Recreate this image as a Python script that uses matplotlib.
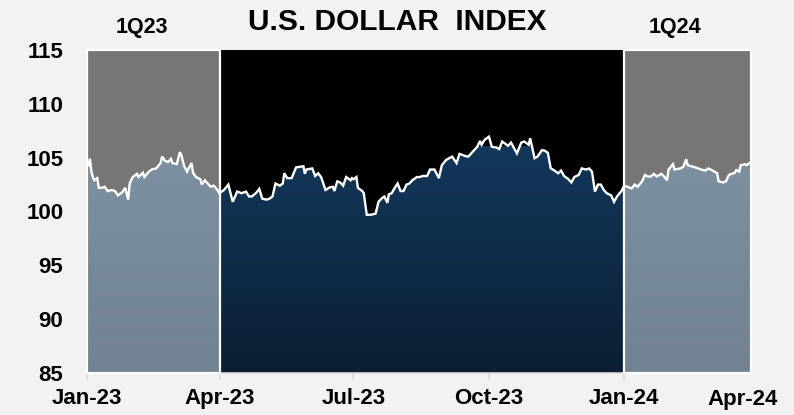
import numpy as np
import pandas as pd
import matplotlib
matplotlib.use("Agg")
import matplotlib.pyplot as plt
import matplotlib.dates as mdates
from matplotlib.colors import LinearSegmentedColormap

# ---------------- data ----------------
dates = [
    "2023-01-02", "2023-01-03", "2023-01-04", "2023-01-05", "2023-01-06", "2023-01-08",
    "2023-01-09", "2023-01-11", "2023-01-13", "2023-01-15", "2023-01-18", "2023-01-20",
    "2023-01-22", "2023-01-25", "2023-01-27", "2023-01-29", "2023-01-30", "2023-02-01",
    "2023-02-04", "2023-02-05", "2023-02-08", "2023-02-09", "2023-02-12", "2023-02-14",
    "2023-02-17", "2023-02-20", "2023-02-21", "2023-02-23", "2023-02-25", "2023-02-27",
    "2023-02-28", "2023-03-03", "2023-03-05", "2023-03-06", "2023-03-08", "2023-03-10",
    "2023-03-11", "2023-03-13", "2023-03-14", "2023-03-16", "2023-03-19", "2023-03-20",
    "2023-03-22", "2023-03-24", "2023-03-26", "2023-03-28", "2023-03-30", "2023-04-01",
    "2023-04-04", "2023-04-07", "2023-04-10", "2023-04-13", "2023-04-16", "2023-04-19",
    "2023-04-21", "2023-04-23", "2023-04-26", "2023-04-28", "2023-04-30", "2023-05-03",
    "2023-05-05", "2023-05-07", "2023-05-09", "2023-05-12", "2023-05-14", "2023-05-15",
    "2023-05-17", "2023-05-20", "2023-05-23", "2023-05-28", "2023-05-29", "2023-05-30",
    "2023-06-03", "2023-06-05", "2023-06-07", "2023-06-09", "2023-06-12", "2023-06-15",
    "2023-06-17", "2023-06-18", "2023-06-20", "2023-06-22", "2023-06-24", "2023-06-26",
    "2023-06-29", "2023-06-30", "2023-07-01", "2023-07-03", "2023-07-04", "2023-07-07",
    "2023-07-08", "2023-07-10", "2023-07-13", "2023-07-16", "2023-07-18", "2023-07-20",
    "2023-07-22", "2023-07-24", "2023-07-25", "2023-07-27", "2023-07-29", "2023-07-31",
    "2023-08-02", "2023-08-04", "2023-08-06", "2023-08-08", "2023-08-10", "2023-08-13",
    "2023-08-15", "2023-08-17", "2023-08-20", "2023-08-22", "2023-08-25", "2023-08-28",
    "2023-08-30", "2023-09-02", "2023-09-06", "2023-09-09", "2023-09-11", "2023-09-15",
    "2023-09-17", "2023-09-20", "2023-09-23", "2023-09-25", "2023-09-26", "2023-09-28",
    "2023-10-01", "2023-10-03", "2023-10-06", "2023-10-08", "2023-10-10", "2023-10-12",
    "2023-10-14", "2023-10-16", "2023-10-18", "2023-10-20", "2023-10-23", "2023-10-25",
    "2023-10-28", "2023-10-29", "2023-11-01", "2023-11-03", "2023-11-06", "2023-11-08",
    "2023-11-10", "2023-11-12", "2023-11-14", "2023-11-17", "2023-11-19", "2023-11-21",
    "2023-11-24", "2023-11-26", "2023-11-28", "2023-12-01", "2023-12-03", "2023-12-06",
    "2023-12-08", "2023-12-10", "2023-12-12", "2023-12-14", "2023-12-16", "2023-12-18",
    "2023-12-20", "2023-12-23", "2023-12-25", "2023-12-27", "2023-12-30", "2024-01-01",
    "2024-01-04", "2024-01-06", "2024-01-08", "2024-01-10", "2024-01-13", "2024-01-15",
    "2024-01-17", "2024-01-19", "2024-01-21", "2024-01-23", "2024-01-26", "2024-01-28",
    "2024-01-30", "2024-01-31", "2024-02-03", "2024-02-04", "2024-02-08", "2024-02-10",
    "2024-02-12", "2024-02-13", "2024-02-18", "2024-02-22", "2024-02-25", "2024-02-27",
    "2024-03-01", "2024-03-04", "2024-03-05", "2024-03-08", "2024-03-10", "2024-03-12",
    "2024-03-14", "2024-03-16", "2024-03-17", "2024-03-19", "2024-03-20", "2024-03-23",
    "2024-03-24", "2024-03-26",
]
dxy = [
    104.3, 104.9, 103.7, 103.2, 102.9, 103.1,
    102.2, 102.2, 102.3, 101.9, 102.0, 101.9,
    101.5, 101.8, 102.2, 101.1, 102.6, 103.2,
    103.5, 103.2, 103.6, 103.2, 103.7, 103.9,
    104.0, 104.5, 105.1, 104.7, 104.6, 104.9,
    104.5, 104.4, 105.5, 105.3, 104.2, 103.7,
    104.0, 104.5, 103.6, 103.2, 103.0, 102.5,
    102.9, 102.6, 102.3, 102.4, 102.1, 101.7,
    102.0, 102.5, 100.9, 101.85, 101.7, 101.85,
    101.4, 101.4, 101.75, 102.1, 101.2, 101.1,
    101.2, 101.4, 102.6, 102.4, 102.6, 103.55,
    103.1, 103.1, 104.1, 104.2, 103.5, 103.9,
    104.0, 103.3, 103.55, 103.2, 102.0, 102.25,
    102.3, 101.9, 102.8, 102.7, 102.4, 103.2,
    102.9, 103.1, 103.0, 103.2, 102.2, 101.9,
    101.7, 99.7, 99.7, 99.8, 100.9, 101.2,
    101.4, 100.8, 101.6, 101.7, 102.2, 102.6,
    101.9, 101.9, 102.5, 102.6, 102.9, 103.2,
    103.2, 103.3, 103.3, 103.9, 103.9, 103.1,
    104.3, 104.8, 105.1, 104.5, 105.35, 105.15,
    105.1, 105.55, 106.0, 106.55, 106.2, 106.65,
    106.95, 106.0, 105.95, 105.8, 106.5, 106.3,
    106.1, 106.4, 105.9, 105.4, 106.4, 106.5,
    106.2, 106.8, 104.95, 105.1, 105.7, 105.65,
    105.45, 104.0, 103.85, 103.55, 103.8, 103.3,
    103.0, 102.7, 103.2, 103.4, 104.0, 103.9,
    104.0, 103.7, 101.85, 102.5, 102.5, 102.0,
    101.7, 101.5, 100.9, 101.4, 101.9, 102.4,
    102.25, 102.15, 102.5, 102.3, 102.8, 103.4,
    103.25, 103.25, 103.5, 103.25, 103.5, 103.25,
    102.9, 103.9, 104.4, 103.9, 104.0, 104.15,
    104.85, 104.3, 104.1, 103.9, 103.8, 104.0,
    103.8, 103.55, 102.8, 102.7, 102.8, 103.4,
    103.5, 103.6, 103.85, 103.7, 104.3, 104.4,
    104.3, 104.5,
]
title = "U.S. DOLLAR  INDEX"
x_tick_dates = ["2023-01-01", "2023-04-01", "2023-07-01", "2023-10-01", "2024-01-01"]
last_tick_label = "Apr-24"
y_ticks = [85, 90, 95, 100, 105, 110, 115]
quarter_labels = ["1Q23", "1Q24"]
q1_2023 = ("2023-01-01", "2023-04-01")
mid_span = ("2023-04-01", "2024-01-01")
q1_2024 = ("2024-01-01", "2024-03-27")

# ---------------- figure ----------------
plt.rcParams['font.family'] = ['Liberation Sans', 'DejaVu Sans']
BG = '#f2f2f2'
fig = plt.figure(figsize=(7.94, 4.15), dpi=100, facecolor=BG)
ax = fig.add_axes([87/794, 42/415, (751-87)/794, (373-50)/415])
ax.set_facecolor(BG)

x = pd.to_datetime(dates)
xn = mdates.date2num(x)
y = np.array(dxy)
YMIN, YMAX = 85, 115

def dn(s):
    return mdates.date2num(pd.Timestamp(s))

# top (above-line) background colors
ax.axvspan(dn(q1_2023[0]), dn(q1_2023[1]), color='#767676', zorder=0, lw=0)
ax.axvspan(dn(mid_span[0]), dn(mid_span[1]), color='#000000', zorder=0, lw=0)
ax.axvspan(dn(q1_2024[0]), dn(q1_2024[1]), color='#767676', zorder=0, lw=0)

# area clip path (under the line)
poly = ax.fill_between(xn, y, YMIN, facecolor='none', edgecolor='none')
clip_path = poly.get_paths()[0]

light = LinearSegmentedColormap.from_list('light', ['#718392', '#7d91a2'])
dark = LinearSegmentedColormap.from_list('dark', ['#0a1f33', '#13385b'])
grad = np.linspace(0, 1, 256).reshape(-1, 1)
for (a, b), cmap in [(q1_2023, light), (mid_span, dark), (q1_2024, light)]:
    im = ax.imshow(grad, cmap=cmap, aspect='auto', origin='lower',
                   extent=[dn(a), dn(b), YMIN, 106.0], zorder=1,
                   interpolation='bicubic')
    im.set_clip_path(clip_path, transform=ax.transData)

# white borders of the quarter panels
for a, b in [q1_2023, q1_2024]:
    xa, xb = dn(a), dn(b)
    ax.plot([xa, xa, xb, xb], [YMIN, YMAX, YMAX, YMIN], color='white', lw=1.6,
            zorder=3, solid_joinstyle='miter', clip_on=False)
    ax.plot([xa, xb], [YMIN, YMIN], color='white', lw=1.6, zorder=3, clip_on=False)

# the index line
ax.plot(xn, y, color='white', lw=1.7, zorder=4, solid_joinstyle='miter')

ax.set_xlim(dn(q1_2023[0]), dn(q1_2024[1]))
ax.set_ylim(YMIN, YMAX)

for s in ['top', 'right', 'left']:
    ax.spines[s].set_visible(False)
ax.spines['bottom'].set_color('#d9d9d9')
ax.spines['bottom'].set_linewidth(1.2)
ax.spines['bottom'].set_zorder(2)

ax.set_yticks(y_ticks)
ax.set_yticklabels([str(v) for v in y_ticks])
ax.tick_params(axis='y', length=0, pad=17, labelsize=16)
ax.set_xticks([dn(d) for d in x_tick_dates])
ax.set_xticklabels([pd.Timestamp(d).strftime('%b-%y') for d in x_tick_dates])
ax.tick_params(axis='x', length=5, width=1.2, color='#d9d9d9', pad=6, labelsize=16)
for lab in ax.get_xticklabels() + ax.get_yticklabels():
    lab.set_fontweight('bold')

# extra last label (Apr-24), placed slightly higher
fig.text(743/794, 1 - 399/415, last_tick_label, ha='center', va='center',
         fontsize=16, fontweight='bold')

# title and quarter labels
fig.text(0.5, 1 - 22/415, title, ha='center', va='center', fontsize=21.5, fontweight='bold')
fig.text(142/794, 1 - 28/415, quarter_labels[0], ha='center', va='center', fontsize=15.5, fontweight='bold')
fig.text(675/794, 1 - 28/415, quarter_labels[1], ha='center', va='center', fontsize=15.5, fontweight='bold')

fig.savefig('out.png', dpi=100, facecolor=BG)
